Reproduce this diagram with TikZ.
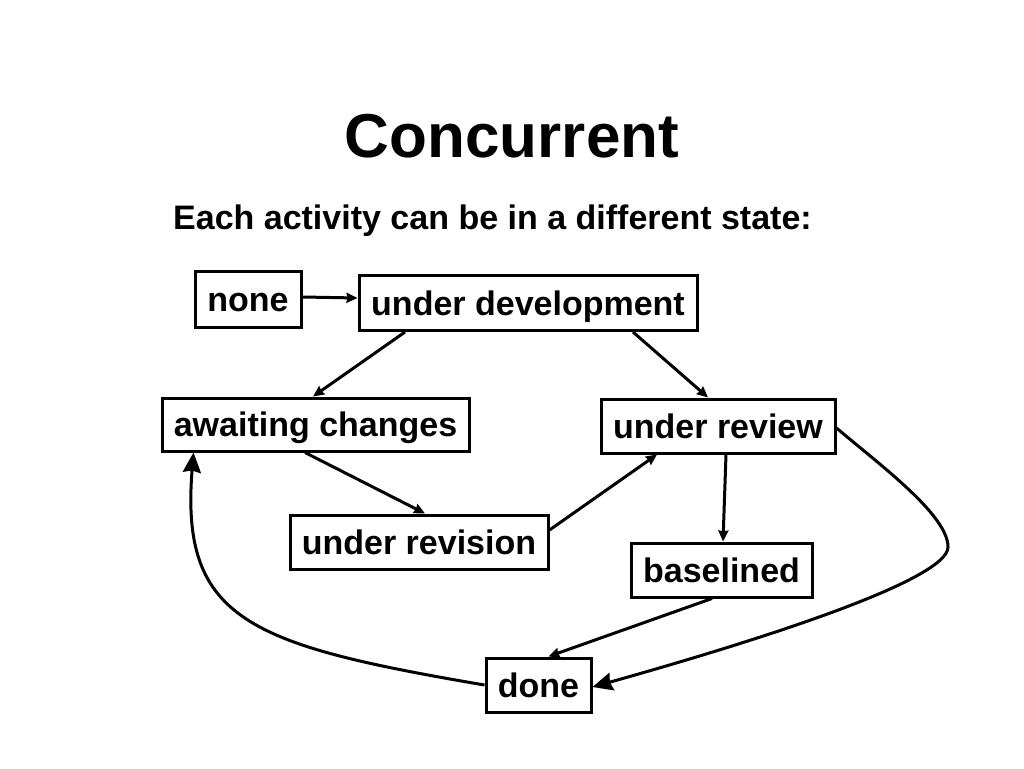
\documentclass[tikz,border=0pt]{standalone}
\usepackage{fontspec}
\setmainfont{Liberation Sans}
\usetikzlibrary{arrows.meta}
\begin{document}
\begin{tikzpicture}[x=1pt,y=-1pt,
  state/.style={draw,line width=3pt,rectangle,inner sep=0pt,
    font=\fontsize{34}{40}\selectfont\bfseries,text height=24.3pt,text depth=0pt},
  conn/.style={line width=3pt,-{Stealth[length=11pt,width=10pt,inset=1pt]}},
  bigconn/.style={line width=3pt,-{Stealth[length=20pt,width=18pt,inset=2pt]}}]
\useasboundingbox (0,0) rectangle (1024,768);
\fill[white] (0,0) rectangle (1024,768);
\node[anchor=base,font=\fontsize{62}{70}\selectfont\bfseries] (title) at (512,157) {Concurrent};
\node[anchor=base,font=\fontsize{34}{40}\selectfont\bfseries] (sub) at (492.5,229) {Each activity can be in a different state:};
\node[state,minimum width=106pt,minimum height=56pt] (none) at (248,299) {none};
\node[state,minimum width=338pt,minimum height=55pt] (ud) at (528,303) {under development};
\node[state,minimum width=307pt,minimum height=53pt] (ac) at (315.5,424.5) {awaiting changes};
\node[state,minimum width=234pt,minimum height=54pt] (ur) at (718,426) {under review};
\node[state,minimum width=258pt,minimum height=54pt] (urv) at (419,542) {under revision};
\node[state,minimum width=181pt,minimum height=54pt] (bl) at (721.5,570) {baselined};
\node[state,minimum width=105pt,minimum height=54pt] (done) at (538.5,685) {done};
\draw[conn] ([yshift=2pt]none.east) -- ([yshift=5pt]ud.west);
\draw[conn] ([xshift=-123pt]ud.south) -- ([xshift=-2.5pt]ac.north);
\draw[conn] ([xshift=105pt]ud.south) -- ([xshift=-10pt]ur.north);
\draw[conn] ([xshift=-10.5pt]ac.south) -- ([xshift=6pt]urv.north);
\draw[conn] ([yshift=12pt]urv.east) -- ([xshift=-61pt]ur.south);
\draw[conn] ([xshift=8pt]ur.south) -- ([xshift=1.5pt]bl.north);
\draw[conn] ([xshift=-9.5pt]bl.south) -- ([xshift=10pt]done.north);
\draw[bigconn] ([yshift=-2pt]ur.east) .. controls (880,465) and (948,515) .. (948,547)
  .. controls (948,580) and (760,640) .. ([yshift=-2pt]done.east);
\draw[bigconn] (done.west) .. controls (250,645) and (180,620) .. ([xshift=-122pt]ac.south);
\end{tikzpicture}
\end{document}
